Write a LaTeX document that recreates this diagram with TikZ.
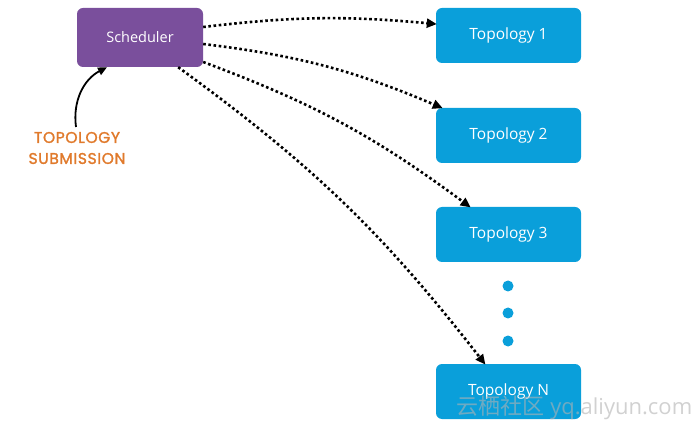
\documentclass[tikz,border=0pt]{standalone}
\usepackage{fontspec}
\setmainfont{Open Sans}
\newfontfamily\labelfont[LetterSpace=4,FakeBold=1.6]{Poppins}
\newfontfamily\cjk{Noto Sans CJK SC}
\usetikzlibrary{arrows.meta}
\definecolor{schedcol}{HTML}{7A4F9C}
\definecolor{topocol}{HTML}{0A9FDA}
\definecolor{subcol}{HTML}{E07A2C}
\tikzset{
  schedbox/.style={rectangle, rounded corners=6pt, fill=schedcol, text=white,
    minimum width=126pt, minimum height=59pt, inner sep=0pt, font=\fontsize{14.5}{16}\selectfont},
  topobox/.style={rectangle, rounded corners=6pt, fill=topocol, text=white,
    minimum width=145pt, minimum height=55pt, inner sep=0pt, font=\fontsize{15.5}{18}\selectfont},
  dotlink/.style={line width=2.6pt, dash pattern=on 2.6pt off 2.6pt,
    -{Triangle[length=10pt,width=9pt]}, shorten >=-1pt},
  subarrow/.style={line width=1.8pt, -{Triangle[length=9pt,width=8pt]}},
  moredot/.style={circle, fill=topocol, minimum size=11pt, inner sep=0pt},
}
\begin{document}
\begin{tikzpicture}[x=1pt,y=-1pt]
\useasboundingbox (0,0) rectangle (696,430);
\node[schedbox] (s) at (140,37.5) {Scheduler};
\node[topobox] (t1) at (508.5,35.5) {Topology 1};
\node[topobox] (t2) at (508.5,135.5) {Topology 2};
\node[topobox] (t3) at (508.5,234.5) {Topology 3};
\node[topobox] (tN) at (508.5,391.5) {Topology N};
\node[moredot] (d1) at (508,286) {};
\node[moredot] (d2) at (508,313) {};
\node[moredot] (d3) at (508,341) {};
\node[text=subcol, font=\labelfont\fontsize{15.5}{21}\selectfont, align=center] (sub) at (77,148) {TOPOLOGY\\SUBMISSION};
\coordinate (subtop) at (76,127);
\draw[subarrow] (subtop) to[bend left=35] ([xshift=-33pt]s.south);
\draw[dotlink] ([yshift=10.5pt]s.east) to[bend left=6] ([yshift=11.5pt]t1.west);
\draw[dotlink] ([yshift=-6.5pt]s.east) to[bend left=8] ([xshift=6pt]t2.north west);
\draw[dotlink] ([yshift=-24.5pt]s.east) to[bend left=8] ([xshift=34pt]t3.north west);
\draw[dotlink] ([xshift=-25pt]s.south east) to[bend left=8] ([xshift=49pt]tN.north west);
\node[text=gray!60, opacity=0.6, font=\fontsize{22}{24}\selectfont, anchor=west] (wm) at (453,408) {{\cjk 云栖社区} yq.aliyun.com};
\end{tikzpicture}
\end{document}
